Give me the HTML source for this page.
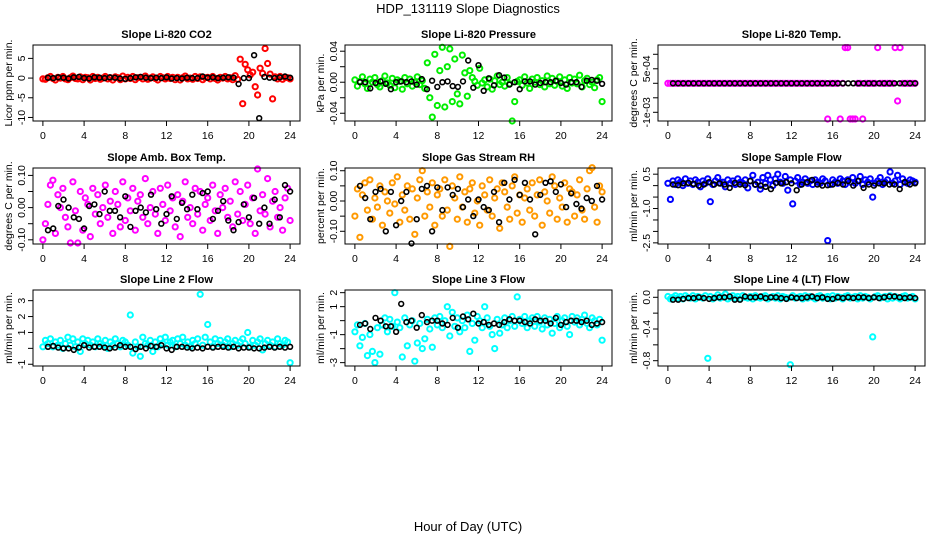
<!DOCTYPE html>
<html><head><meta charset="utf-8"><title>HDP_131119 Slope Diagnostics</title>
<style>
html,body{margin:0;padding:0;background:#fff;}
svg{display:block;font-family:"Liberation Sans",Arial,sans-serif;}
</style></head>
<body>
<svg id="chart" width="936" height="540" viewBox="0 0 936 540" xmlns="http://www.w3.org/2000/svg">
<rect width="936" height="540" fill="#fff"/>
<text x="468" y="13" font-size="13" text-anchor="middle">HDP_131119  Slope Diagnostics</text>
<text x="468" y="531" font-size="13" text-anchor="middle">Hour of Day (UTC)</text>
</svg>
<script>
// ---- data ----
const xTicks = [0,4,8,12,16,20,24];
const blackHours = [0.5,1,1.5,2,2.5,3,3.5,4,4.5,5,5.5,6,6.5,7,7.5,8,8.5,9,9.5,10,10.5,11,11.5,12,12.5,13,13.5,14,14.5,15,15.5,16,16.5,17,17.5,18,18.5,19,19.5,20,20.5,21,21.5,22,22.5,23,23.5,24];
const nColour = 100;
const colourHours = [];
for (let i = 0; i < nColour; i++) colourHours.push(i * 24 / (nColour - 1));

const panelTitles = ["Slope Li-820 CO2","Slope Li-820 Pressure","Slope Li-820 Temp.","Slope Amb. Box Temp.","Slope Gas Stream RH","Slope Sample Flow","Slope Line 2 Flow","Slope Line 3 Flow","Slope Line 4 (LT) Flow"];
const panelYTitles = ["Licor ppm per min.","kPa per min.","degrees C per min.","degrees C per min.","percent per min.","ml/min per min.","ml/min per min.","ml/min per min.","ml/min per min."];
const panelColours = ["#ff0000","#00ee00","#ff00ff","#ff00ff","#ff9900","#0000ff","#00ffff","#00ffff","#00ffff"];
const yLimits = [[-10.9,8.4],[-0.050,0.048],[-0.0013,0.00132],[-0.113,0.123],[-0.142,0.109],[-2.55,0.77],[-1.11,3.67],[-3.24,2.19],[-0.867,0.092]];
const yTicks = [[-10,-5,0,5],[-0.04,-0.02,0,0.02,0.04],[-0.001,-0.0005,0,0.0005,0.001],[-0.1,-0.05,0,0.05,0.1],[-0.1,-0.05,0,0.05,0.1],[-2.5,-2,-1.5,-1,-0.5,0,0.5],[-1,0,1,2,3],[-3,-2,-1,0,1,2],[-0.8,-0.6,-0.4,-0.2,0]];
const yTickLabels = [["-10","-5","0","5"],["-0.04","","0.00","","0.04"],["-1e-03","","","5e-04",""],["-0.10","","0.00","","0.10"],["-0.10","","0.00","","0.10"],["-2.5","","","-1.0","","","0.5"],["-1","","1","2","3"],["-3","","-1","","1","2"],["-0.8","","-0.4","","0.0"]];

const co2Colour = [-0.2,-0.3,0.1,0.4,-0.1,-0.5,0.2,0,0.4,-0.2,-0.4,0.1,0.5,-0.1,-0.2,0.3,-0.4,0.2,0.1,-0.5,0.4,-0.1,0.2,-0.3,0,0.4,-0.2,0.1,-0.5,0.3,0.1,-0.4,0.5,-0.2,0.2,-0.1,0.4,-0.4,0.1,0.2,-0.2,0.5,-0.3,0,0.3,-0.1,-0.5,0.4,0.1,-0.2,0.4,-0.1,0.2,-0.4,0.2,-0.5,0.1,0.5,-0.2,0,-0.3,0.4,-0.1,0.3,-0.4,0.1,0.2,-0.2,0.4,-0.1,-0.5,0.2,0,0.4,-0.2,0.1,-0.4,0.6,-0.3,4.8,-6.5,3.5,2.1,0.8,1.5,-2.2,-4.3,2.5,1.2,7.5,3.7,1.0,-5.3,0.3,-0.2,0.4,-0.3,0.2,0.1,-0.2];
const co2Black = [0.1,0,0.2,0.1,-0.1,0.2,0.3,0,-0.1,0.2,0.1,0,0.2,0.1,-0.1,-0.2,0,0.2,0.3,0.1,0,0.1,0,0.2,-0.1,0,-0.1,0.1,0,0,0.4,0.1,0.2,0,0.1,0.2,0.1,-1.5,0,0,5.8,-10.2,0.3,0.1,0,0.2,0.4,0.1];

const pressColour = [0.003,-0.005,0.001,0.007,-0.002,-0.008,0.004,0,0.006,-0.003,-0.006,0.002,0.008,-0.001,-0.004,0.005,-0.007,0.003,0.001,-0.009,0.006,-0.002,0.004,-0.005,0,0.007,-0.003,0.002,-0.008,0.025,-0.02,-0.045,0.036,-0.03,0.015,0.045,-0.032,0.02,0.043,-0.025,0.03,-0.015,-0.028,0.035,0.012,-0.018,0.015,0.006,0.001,-0.004,0.018,-0.001,0.003,-0.006,0.004,-0.009,0.002,0.008,-0.003,0,-0.005,0.006,-0.002,-0.05,-0.025,0.001,0.003,-0.004,0.007,-0.001,-0.008,0.004,0,0.006,-0.003,0.002,-0.006,0.008,-0.002,0.005,-0.004,0.001,0.007,-0.005,0.003,-0.008,0.006,-0.001,0.004,-0.002,0.009,-0.006,0.002,0.005,-0.003,0,-0.007,0.003,0.006,-0.025];
const pressBlack = [0,0,-0.008,-0.001,0.001,-0.002,-0.009,0,0.001,0,0.001,-0.003,0.004,-0.009,0.002,-0.006,0,0.001,-0.005,-0.006,0.001,0.028,-0.007,0.022,-0.011,0.005,-0.004,0.009,0.006,-0.003,0,-0.009,0.001,0.001,-0.003,-0.001,0,0,0.002,-0.001,-0.003,0,0,-0.006,0.002,0.003,0.002,-0.002];

const tempColour = [0,0,0,0,0,0,0,0,0,0,0,0,0,0,0,0,0,0,0,0,0,0,0,0,0,0,0,0,0,0,0,0,0,0,0,0,0,0,0,0,0,0,0,0,0,0,0,0,0,0,0,0,0,0,0,0,0,0,0,0,0,0,0,0,-0.00123,0,0,0,0,-0.00123,0,0.00123,0.00123,-0.00123,-0.00123,-0.00123,0,0,-0.00123,0,0,0,0,0,0.00123,0,0,0,0,0,0,0.00123,-0.00061,0.00123,0,0,0,0,0,0];
const tempBlack = [0,0,0,0,0,0,0,0,0,0,0,0,0,0,0,0,0,0,0,0,0,0,0,0,0,0,0,0,0,0,0,0,0,0,0,0,0,0,0,0,0,0,0,0,0,0,0,0];

const ambColour = [-0.10,-0.05,0.01,0.07,0.085,-0.08,0.04,0,0.06,-0.03,-0.06,-0.11,0.08,-0.01,-0.11,0.05,-0.07,0.03,0.01,-0.09,0.06,-0.02,0.04,-0.05,0,0.07,-0.03,0.02,-0.08,0.05,0.01,-0.06,0.08,-0.04,0.03,-0.01,0.06,-0.07,0.02,0.04,-0.03,0.09,-0.05,0,0.05,-0.02,-0.08,0.06,0.01,-0.04,0.07,-0.01,0.03,-0.06,0.04,-0.09,0.02,0.08,-0.03,0,-0.05,0.06,-0.02,0.05,-0.07,0.01,0.03,-0.04,0.07,-0.01,-0.08,0.04,0,0.06,-0.03,0.02,-0.06,0.08,-0.02,0.05,-0.04,0.01,0.07,-0.05,0.03,-0.08,0.12,-0.01,0.04,-0.02,0.09,-0.06,0.02,0.05,-0.03,0,-0.07,0.03,0.06,-0.04];
const ambBlack = [-0.07,-0.065,0.005,0.025,0,-0.03,-0.035,-0.065,0.005,0.01,-0.02,0.05,-0.01,-0.01,-0.03,0.035,-0.06,-0.01,0,-0.015,0.04,-0.005,-0.05,-0.02,0.035,-0.035,0.015,-0.005,0.04,-0.005,0.045,0.05,-0.035,-0.01,0.02,-0.04,-0.07,-0.045,0.01,-0.03,0.03,-0.05,0,-0.05,0.025,-0.03,0.07,0.05];

const rhColour = [-0.05,0.04,-0.12,0.02,0.06,-0.03,0.07,-0.06,0.01,-0.02,0.05,-0.08,0.03,0.00,-0.04,0.06,-0.01,0.08,-0.07,0.02,-0.03,0.05,-0.06,0.04,-0.11,0.01,0.07,0.10,-0.05,0.03,-0.02,0.06,-0.08,0.02,0.04,-0.05,0.07,-0.03,-0.15,0.05,0.01,-0.06,0.08,-0.02,0.03,-0.07,0.04,0.06,-0.04,0.00,-0.08,0.05,0.02,-0.03,0.07,-0.05,0.01,0.04,-0.09,0.06,0.03,-0.02,-0.06,0.05,0.08,-0.04,0.02,-0.07,0.01,0.04,-0.03,0.06,-0.05,0.02,0.07,-0.08,0.03,0.00,-0.04,0.08,0.05,-0.06,0.01,-0.02,0.06,-0.07,0.04,0.03,-0.05,0.02,0.07,-0.03,-0.06,0.04,0.10,0.11,-0.02,-0.07,0.05,0.03];
const rhBlack = [0.05,0.01,-0.06,0.03,0.04,-0.1,0.03,-0.08,0,0.03,-0.14,-0.06,0.04,0.05,-0.1,0.045,-0.03,0.045,0.02,0.04,-0.02,0.005,-0.05,0.005,-0.02,-0.03,0.03,-0.07,0.06,0.005,0.07,0.02,0.06,0.005,-0.11,0.02,0.06,0.065,0.03,0.055,-0.02,0.025,-0.01,-0.025,0.01,0,0.05,0.005];

const sampleColour = [0.1,-0.6,0.2,0.05,0.25,0.15,0,0.3,0.1,0.2,0.05,0.25,0.15,-0.05,0.2,0.1,0.3,-0.7,0.05,0.2,0.35,0.1,0.15,-0.05,0.25,0.1,0.2,0.05,0.3,0.15,0.1,0.25,-0.1,0.2,0.45,0.05,0.15,-0.15,0.35,0.1,0.45,0.25,0,0.3,0.5,0.15,0.1,0.4,-0.2,0.25,-0.8,0.2,0.35,0.05,0.15,0.3,0.1,0.2,0.05,0.25,0.15,0.1,0.3,0.2,-2.4,0.05,0.25,0.15,0.1,0.3,0.2,0.05,0.25,0.15,0.35,0.1,0.2,0.4,0.05,0.25,0.15,0.3,-0.5,0.1,0.2,0.35,0.05,0.15,0.25,0.6,0.1,0.2,0.45,0.05,0.3,0.15,0.1,0.25,0.2,0.15];
const sampleBlack = [0.05,0.02,0.1,0.12,0.08,0,0.05,0.15,0.05,0.1,0.05,-0.1,0.12,0.05,0.02,0.2,0.05,0,-0.05,-0.15,0.12,0.1,0.15,0.1,-0.2,0.05,0.15,0.25,0.05,0,0.02,0.05,0.12,0.05,0.2,0,0.2,-0.1,0.05,0,0.1,0.1,0.05,0.05,-0.15,0.15,0.05,0.1];

const line2Colour = [0.1,0.5,0.3,0.6,0.1,0.4,0.2,0.5,0.0,0.3,0.7,0.2,0.6,0.1,0.4,-0.2,0.6,0.3,0.5,0.2,0.4,0.1,0.6,0.3,0.2,0.5,0.0,0.4,0.2,0.6,0.3,0.1,0.5,0.4,0.2,2.1,-0.3,0.4,0.1,-0.5,0.7,0.3,0.2,0.5,-0.2,0.4,0.1,0.6,0.3,0.7,0.2,0.4,0.5,0.1,0.6,0.3,0.7,0.2,0.4,0.1,0.5,0.3,0.6,3.4,0.2,0.7,1.5,0.4,0.1,0.6,0.3,0.5,0.2,0.4,0.6,0.1,0.3,0.5,0.2,0.4,0.6,0.3,1.0,0.1,0.5,0.2,0.4,0.6,-0.1,0.3,0.5,0.2,0.4,0.1,0.6,0.3,0.2,0.5,0.4,-0.9];
const line2Black = [0.1,0.15,0.05,0,0,-0.1,0.05,0.2,0.05,0.1,0.1,0.05,0,0.05,0.2,0.1,0.1,-0.05,0.1,0,0.15,0.1,0.2,0,-0.1,0.1,0.1,0.05,0,0.05,0,0.1,0.05,0.1,0.1,0.05,0.1,0,0.05,0.05,0,0,0.05,0.1,0.05,0.1,0.05,0.1];

const line3Colour = [-0.8,-0.3,-1.8,-1.2,-0.2,-2.5,-1.0,-2.2,-3.0,-0.5,-2.4,-0.3,0.2,-0.8,0.1,-0.4,2.0,-0.1,-0.5,-2.6,0.2,-1.8,-0.3,0.0,-2.9,-1.6,-0.2,-2.0,-1.3,0.1,-0.6,-1.9,0.2,-0.3,0.3,-0.5,0.0,1.0,-1.1,0.6,-0.4,0.2,-0.8,0.0,-0.5,0.4,-2.2,-0.2,-1.4,0.3,0.0,-0.5,1.0,0.2,-0.4,-1.0,-2.0,0.1,-0.9,-0.3,0.2,-0.5,0.0,0.3,-0.4,1.7,0.1,-0.2,0.3,-0.5,0.0,0.2,-0.4,0.3,-0.1,-0.6,0.2,-0.3,0.1,-0.9,-0.2,0.3,-0.5,0.0,0.2,-0.4,-1.0,0.3,-0.1,0.2,-0.3,0.1,0.4,-0.2,-0.5,0.2,0.0,-0.3,0.1,-1.4];
const line3Black = [-0.3,-0.2,-0.6,0.2,0,-0.4,-0.4,-0.8,1.2,-0.1,0,-0.5,0.4,-0.1,0,0,-0.2,-0.3,0.2,-0.5,0.3,0.1,0.5,-0.2,-0.1,-0.3,-0.2,-0.3,-0.1,0.1,0,0,-0.1,-0.2,0.1,0,0,-0.2,0.2,-0.3,-0.1,0,0,-0.1,0,-0.3,-0.2,-0.1];

const line4Colour = [0.01,-0.02,0.0,0.02,-0.01,0.01,-0.02,0.02,0.0,-0.01,0.02,-0.02,0.01,0.0,-0.01,0.02,-0.77,0.01,-0.02,0.0,0.03,-0.01,0.01,0.04,-0.02,0.0,0.02,-0.01,0.01,-0.02,0.02,0.0,-0.01,0.01,-0.02,0.02,0.0,-0.01,0.01,0.02,-0.02,0.0,0.01,-0.01,0.02,-0.02,0.01,0.0,-0.01,-0.85,0.02,-0.01,0.0,0.01,-0.02,0.02,-0.01,0.01,0.0,-0.02,0.01,0.02,-0.01,0.0,0.01,-0.02,0.02,-0.01,0.01,0.0,-0.02,0.01,0.02,-0.01,0.0,0.01,-0.02,0.02,-0.01,0.01,0.0,-0.02,-0.5,0.01,0.02,-0.01,0.0,0.01,-0.02,0.02,-0.01,0.01,0.0,-0.02,0.01,0.02,-0.01,0.0,0.01,-0.02];
const line4Black = [-0.03,-0.03,-0.02,-0.01,-0.01,0,-0.01,-0.02,-0.01,0,0,0.01,-0.03,-0.03,0.01,0,0,0.01,-0.01,0,0,-0.01,-0.02,0,-0.01,-0.01,0,0.01,-0.01,0,-0.02,-0.02,0,-0.01,0,-0.01,0,0,-0.01,0,-0.01,0,0.01,0.01,0,-0.01,0,-0.01];

const colourSeries = [co2Colour,pressColour,tempColour,ambColour,rhColour,sampleColour,line2Colour,line3Colour,line4Colour];
const blackSeries = [co2Black,pressBlack,tempBlack,ambBlack,rhBlack,sampleBlack,line2Black,line3Black,line4Black];

// ---- layout ----
const colLeft = [33,345,658];
const rowTop = [45,168,290];
const plotW = 267, plotH = 76;
const xLim = [-0.96,24.96];
const NS = "http://www.w3.org/2000/svg";
const svg = document.getElementById("chart");

function mk(tag, attrs, parent) {
  const e = document.createElementNS(NS, tag);
  for (const k in attrs) e.setAttribute(k, attrs[k]);
  (parent || svg).appendChild(e);
  return e;
}

for (let p = 0; p < 9; p++) {
  const L = colLeft[p % 3], T = rowTop[Math.floor(p / 3)];
  const yl = yLimits[p];
  const sx = v => L + (v - xLim[0]) / (xLim[1] - xLim[0]) * plotW;
  const sy = v => T + plotH - (v - yl[0]) / (yl[1] - yl[0]) * plotH;
  const g = mk("g", {});
  
  

  const title = mk("text", {x: L + plotW / 2, y: T - 7, "font-size": 11, "font-weight": "bold", "text-anchor": "middle"}, g);
  title.textContent = panelTitles[p];
  
  

  const cg = mk("g", {fill: "none", stroke: panelColours[p], "stroke-width": 2}, g);
  
  
  const cv = colourSeries[p];
  for (let i = 0; i < cv.length && i < colourHours.length; i++) {
    const c = mk("circle", {cx: sx(colourHours[i]).toFixed(1), cy: sy(cv[i]).toFixed(1), r: 2.6}, cg);
    
    
  }
  const bg = mk("g", {fill: "none", stroke: "#000", "stroke-width": 1.6}, g);
  
  
  const bv = blackSeries[p];
  for (let i = 0; i < bv.length && i < blackHours.length; i++) {
    const c = mk("circle", {cx: sx(blackHours[i]).toFixed(1), cy: sy(bv[i]).toFixed(1), r: 2.4}, bg);
    
    
  }

  const box = mk("rect", {x: L, y: T, width: plotW, height: plotH, fill: "none", stroke: "#000", "stroke-width": 1}, g);
  
  

  const xa = mk("g", {}, g);
  
  
  mk("line", {x1: sx(xTicks[0]), x2: sx(xTicks[xTicks.length - 1]), y1: T + plotH, y2: T + plotH, stroke: "#000"}, xa);
  xTicks.forEach(t => {
    mk("line", {x1: sx(t), x2: sx(t), y1: T + plotH, y2: T + plotH + 5, stroke: "#000"}, xa);
    const tx = mk("text", {x: sx(t), y: T + plotH + 18, "font-size": 10.5, "text-anchor": "middle"}, xa);
    tx.textContent = t;
    
    
  });

  const ya = mk("g", {}, g);
  
  
  const yt = yTicks[p];
  mk("line", {x1: L, x2: L, y1: sy(yt[0]), y2: sy(yt[yt.length - 1]), stroke: "#000"}, ya);
  yt.forEach((t, k) => {
    mk("line", {x1: L - 5, x2: L, y1: sy(t), y2: sy(t), stroke: "#000"}, ya);
    const lab = yTickLabels[p][k];
    if (lab) {
      const tx = mk("text", {x: 0, y: 0, "font-size": 10.5, "text-anchor": "middle", transform: "translate(" + (L - 8) + "," + sy(t).toFixed(1) + ") rotate(-90)"}, ya);
      tx.textContent = lab;
      
      
    }
  });
  const yTitle = mk("text", {x: 0, y: 0, "font-size": 10.5, "text-anchor": "middle", transform: "translate(" + (L - 21) + "," + (T + plotH / 2) + ") rotate(-90)"}, g);
  yTitle.textContent = panelYTitles[p];
  
  
}
</script>
</body></html>
